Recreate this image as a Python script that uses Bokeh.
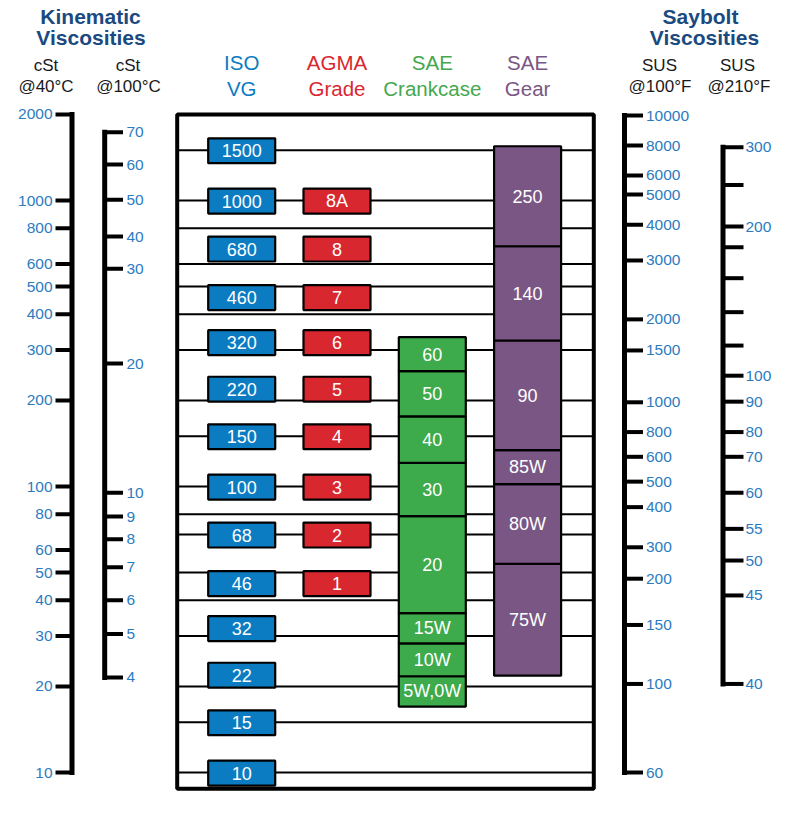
import math
from bokeh.plotting import figure
from bokeh.models import Range1d, LogScale
from bokeh.core.properties import value
from bokeh.embed import file_html
from bokeh.resources import INLINE

# ------------------------------------------------------------------ data
# main scale: kinematic viscosity, cSt @ 40 C
cst40_ticks = [10, 20, 30, 40, 50, 60, 80, 100, 200, 300, 400, 500, 600, 800, 1000, 2000]
grid_cst40 = [10, 15, 20, 30, 40, 50, 68, 80, 100, 150, 200, 300, 400, 500, 600, 800, 1000, 1500]

# cSt @ 100 C scale, with the equivalent cSt @ 40 C
cst100_labels = [4, 5, 6, 7, 8, 9, 10, 20, 30, 40, 50, 60, 70]
cst100_at_cst40 = [21.5, 30.5, 40.0, 52.2, 65.4, 78.5, 95.1, 269, 577, 748, 1006, 1336, 1733]

# Saybolt SUS @ 100 F scale
sus100_labels = [60, 100, 150, 200, 300, 400, 500, 600, 800, 1000, 1500, 2000, 3000, 4000,
                 5000, 6000, 8000, 10000]
sus100_at_cst40 = [10.0, 20.4, 32.8, 47.6, 61.3, 84.7, 104, 127, 155, 197, 299, 384, 617, 822,
                   1049, 1223, 1557, 1982]

# Saybolt SUS @ 210 F scale ("" = unlabelled tick)
sus210_labels = ["40", "45", "50", "55", "60", "70", "80", "90", "100", "", "", "", "", "200", "", "300"]
sus210_at_cst40 = [20.4, 41.6, 55.1, 71.1, 95.1, 127, 155, 198, 244, 311, 407, 535, 687, 811, 1134, 1536]

# ISO VG grades (+/- 10 %)
iso_vg = [10, 15, 22, 32, 46, 68, 100, 150, 220, 320, 460, 680, 1000, 1500]
iso_tolerance = 0.10

# AGMA grades and their ISO VG equivalents
agma_grades = ["1", "2", "3", "4", "5", "6", "7", "8", "8A"]
agma_iso = [46, 68, 100, 150, 220, 320, 460, 680, 1000]

# SAE crankcase grades, cSt @ 40 C ranges
sae_crank_grades = ["5W,0W", "10W", "15W", "20", "30", "40", "50", "60"]
sae_crank_low = [17.0, 21.7, 28.3, 36.1, 78.8, 121, 176, 253]
sae_crank_high = [21.7, 28.3, 36.1, 78.8, 121, 176, 253, 333]

# SAE gear grades, cSt @ 40 C ranges
sae_gear_grades = ["75W", "80W", "85W", "90", "140", "250"]
sae_gear_low = [21.8, 53.7, 102, 134, 324, 692]
sae_gear_high = [53.7, 102, 134, 324, 692, 1548]

columns = ["ISO VG", "AGMA Grade", "SAE Crankcase", "SAE Gear"]

# ------------------------------------------------------------------ layout / style
W, H = 786, 812
Y10_PX, PX_PER_DEC = 772, 286        # where 10 cSt sits, pixels per decade


def yv(px):
    """pixel row -> cSt@40 value on the log scale (for layout only)"""
    return 10 * 10 ** ((Y10_PX - px) / PX_PER_DEC)


FONT = value("Liberation Sans")
TICK_BLUE = "#2c7bbf"
HEAD_BLUE = "#1b4a80"
ISO_BLUE = "#0b7cc2"
AGMA_RED = "#d9272f"
SAE_GREEN = "#3dab4b"
GEAR_PURPLE = "#7a5684"

COL_X0, COL_DX, BOX_W = 241.2, 95.3, 67
col_x = [COL_X0 + i * COL_DX for i in range(4)]

p = figure(width=W, height=H, output_backend="svg", toolbar_location=None,
           x_range=Range1d(0, W), y_range=Range1d(yv(H), yv(0)),
           x_axis_location=None, y_axis_location=None, y_axis_type="log",
           min_border=0, outline_line_color=None,
           background_fill_color="white", border_fill_color="white")
p.y_scale = LogScale()
p.xgrid.visible = False
p.ygrid.visible = False
p.grid.grid_line_color = None

# ------------------------------------------------------------------ main box: grid lines
BOX_L, BOX_R, BOX_TOP, BOX_BOTTOM_PX = 176.7, 593.3, 2000, 788.3
p.segment(x0=[BOX_L] * len(grid_cst40), x1=[BOX_R] * len(grid_cst40),
          y0=grid_cst40, y1=grid_cst40, line_color="black", line_width=2)


def boxes(xc, lows, highs, labels, color):
    n = len(lows)
    p.quad(left=[xc - BOX_W / 2] * n, right=[xc + BOX_W / 2] * n, bottom=lows, top=highs,
           fill_color=color, line_color="black", line_width=2.2)
    mids = [math.sqrt(a * b) for a, b in zip(lows, highs)]
    p.text(x=[xc] * n, y=mids, text=labels, text_font=FONT, text_font_size="18px",
           text_color="white", text_align="center", text_baseline="middle")


boxes(col_x[0], [v * (1 - iso_tolerance) for v in iso_vg], [v * (1 + iso_tolerance) for v in iso_vg],
      [str(v) for v in iso_vg], ISO_BLUE)
boxes(col_x[1], [v * (1 - iso_tolerance) for v in agma_iso], [v * (1 + iso_tolerance) for v in agma_iso],
      agma_grades, AGMA_RED)
boxes(col_x[2], sae_crank_low, sae_crank_high, sae_crank_grades, SAE_GREEN)
boxes(col_x[3], sae_gear_low, sae_gear_high, sae_gear_grades, GEAR_PURPLE)

# outer frame of the comparison box
p.quad(left=[BOX_L], right=[BOX_R], bottom=[yv(BOX_BOTTOM_PX)], top=[BOX_TOP],
       fill_color=None, line_color="black", line_width=4)


# ------------------------------------------------------------------ scales
def scale(spine_x, tick_end_x, at, labels, label_x, align):
    lo, hi = min(at), max(at)
    p.segment(x0=[spine_x], x1=[spine_x], y0=[lo], y1=[hi], line_color="black",
              line_width=5, line_cap="square")
    p.segment(x0=[spine_x] * len(at), x1=[tick_end_x] * len(at), y0=at, y1=at,
              line_color="black", line_width=4)
    p.text(x=[label_x] * len(at), y=at, text=labels, text_font=FONT, text_font_size="15.5px",
           text_color=TICK_BLUE, text_align=align, text_baseline="middle")


scale(71.5, 55, cst40_ticks, [str(v) for v in cst40_ticks], 52, "right")
scale(104.2, 122.5, cst100_at_cst40, [str(v) for v in cst100_labels], 126, "left")
scale(624, 642.5, sus100_at_cst40, [str(v) for v in sus100_labels], 645.5, "left")
scale(722.5, 743, sus210_at_cst40, sus210_labels, 745, "left")


# ------------------------------------------------------------------ headings
def heading(xs, baseline_px, texts, size, color, style="normal"):
    p.text(x=xs, y=[yv(baseline_px)] * len(xs), text=texts, text_font=FONT,
           text_font_size=size, text_font_style=style, text_color=color,
           text_align="center", text_baseline="alphabetic")


heading([90, 700], 16, ["Kinematic", "Saybolt"], "21px", HEAD_BLUE, "bold")
heading([90.5, 704], 36.5, ["Viscosities", "Viscosities"], "21px", HEAD_BLUE, "bold")
heading([45.5, 127.5, 659, 737], 64.5, ["cSt", "cSt", "SUS", "SUS"], "17px", "#1a1a1a")
heading([45.5, 128, 659.5, 738.5], 86, ["@40°C", "@100°C", "@100°F", "@210°F"], "17px", "#1a1a1a")

head_colors = [ISO_BLUE, AGMA_RED, "#45a84e", GEAR_PURPLE]
for xc, name, c in zip(col_x, columns, head_colors):
    first, second = name.split(" ", 1)
    heading([xc], 61.5, [first], "20.5px", c)
    heading([xc], 88, [second], "20.5px", c)

open("out.html", "w").write(file_html(p, INLINE))
